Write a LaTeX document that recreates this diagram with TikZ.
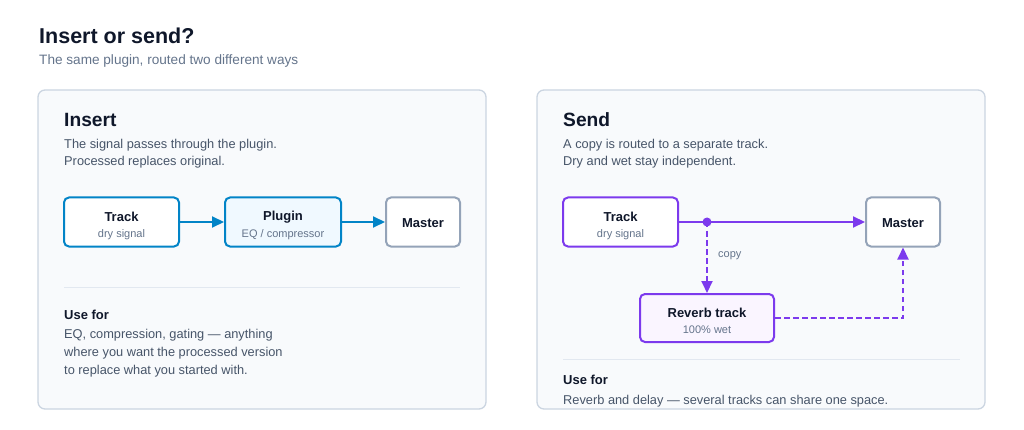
\documentclass[tikz,border=0pt]{standalone}
\usepackage{fontspec}
\setmainfont{Liberation Sans}
\usetikzlibrary{arrows.meta}
\definecolor{ink}{HTML}{0F172A}
\definecolor{body}{HTML}{475569}
\definecolor{muted}{HTML}{64748B}
\definecolor{panelbg}{HTML}{F8FAFC}
\definecolor{panelbd}{HTML}{CBD5E1}
\definecolor{sep}{HTML}{E2E8F0}
\definecolor{blu}{HTML}{0284C7}
\definecolor{blubg}{HTML}{F0F9FF}
\definecolor{pur}{HTML}{7C3AED}
\definecolor{purbg}{HTML}{FAF5FF}
\definecolor{mast}{HTML}{94A3B8}
\tikzset{
  panel/.style={draw=panelbd, fill=panelbg, line width=1.3pt, rounded corners=7pt},
  flowbox/.style={draw, line width=2pt, rounded corners=5pt, fill=white, inner sep=0pt, align=center},
  boxtitle/.style={font=\fontsize{13}{15}\selectfont\bfseries, text=ink},
  boxsub/.style={font=\fontsize{11}{13}\selectfont, text=muted},
  txt/.style={anchor=west, inner sep=0pt, text=body, font=\fontsize{12.8}{15}\selectfont},
  head/.style={anchor=west, inner sep=0pt, text=ink, font=\fontsize{19.2}{22}\selectfont\bfseries},
  usefor/.style={anchor=west, inner sep=0pt, text=ink, font=\fontsize{13}{15}\selectfont\bfseries},
  flowarrow/.style={line width=2pt, -{Triangle[length=12pt,width=11pt]}},
  dashflow/.style={flowarrow, dash pattern=on 5.5pt off 3.5pt},
}
\begin{document}
\begin{tikzpicture}[x=1pt,y=-1pt]
\useasboundingbox (0,0) rectangle (1024,430);
% title
\node[anchor=west, inner sep=0pt, text=ink, font=\fontsize{21.5}{25}\selectfont\bfseries] (title) at (39,35.5) {Insert or send?};
\node[anchor=west, inner sep=0pt, text=muted, font=\fontsize{13.6}{16}\selectfont] (subtitle) at (39,61) {The same plugin, routed two different ways};
% panels
\draw[panel] (38,90) rectangle (486,409);
\draw[panel] (537,90) rectangle (985,409);
% ---- Insert ----
\node[head] (ihead) at (64,120) {Insert};
\node[txt] (id1) at (64,145) {The signal passes through the plugin.};
\node[txt] (id2) at (64,162) {Processed replaces original.};
\node[flowbox, draw=blu, minimum width=115pt, minimum height=49pt] (itrack) at (121.5,222) {};
\node[boxtitle] at (121.5,217) {Track};
\node[boxsub] at (121.5,234.5) {dry signal};
\node[flowbox, draw=blu, fill=blubg, minimum width=116pt, minimum height=49pt] (iplug) at (283,222) {};
\node[boxtitle] at (283,217) {Plugin};
\node[boxsub] at (283,234.5) {EQ / compressor};
\node[flowbox, draw=mast, minimum width=74pt, minimum height=49pt] (imaster) at (423,222) {};
\node[boxtitle] at (423,223.5) {Master};
\draw[flowarrow, draw=blu] (itrack.east) -- (iplug.west);
\draw[flowarrow, draw=blu] (iplug.east) -- (imaster.west);
\draw[sep, line width=1pt] (64,287) -- (460,287);
\node[usefor] (iuse) at (64,314.5) {Use for};
\node[txt] (ib1) at (64,335.5) {EQ, compression, gating — anything};
\node[txt] (ib2) at (64,353.5) {where you want the processed version};
\node[txt] (ib3) at (64,371.5) {to replace what you started with.};
% ---- Send ----
\node[head] (shead) at (563,120) {Send};
\node[txt] (sd1) at (563,145) {A copy is routed to a separate track.};
\node[txt] (sd2) at (563,162) {Dry and wet stay independent.};
\node[flowbox, draw=pur, minimum width=115pt, minimum height=49pt] (strack) at (620.5,222) {};
\node[boxtitle] at (620.5,217) {Track};
\node[boxsub] at (620.5,234.5) {dry signal};
\node[flowbox, draw=mast, minimum width=74pt, minimum height=49pt] (smaster) at (903,222) {};
\node[boxtitle] at (903,223.5) {Master};
\node[flowbox, draw=pur, fill=purbg, minimum width=134pt, minimum height=48pt] (reverb) at (707,318) {};
\node[boxtitle] at (707,313) {Reverb track};
\node[boxsub] at (707,330) {100\% wet};
\coordinate (split) at (707,222);
\coordinate (corner) at (smaster.south |- reverb.east);
\draw[flowarrow, draw=pur] (strack.east) -- (smaster.west);
\fill[pur] (split) circle (4.5pt);
\draw[dashflow, draw=pur] (split) -- (reverb.north);
\node[anchor=west, inner sep=0pt, text=muted, font=\fontsize{11}{13}\selectfont] (copy) at (718,256) {copy};
\draw[dashflow, draw=pur] (reverb.east) -- (corner) -- (smaster.south);
\draw[sep, line width=1pt] (563,359) -- (960,359);
\node[usefor] (suse) at (563,380) {Use for};
\node[txt] (sb1) at (563,401) {Reverb and delay — several tracks can share one space.};
\end{tikzpicture}
\end{document}
